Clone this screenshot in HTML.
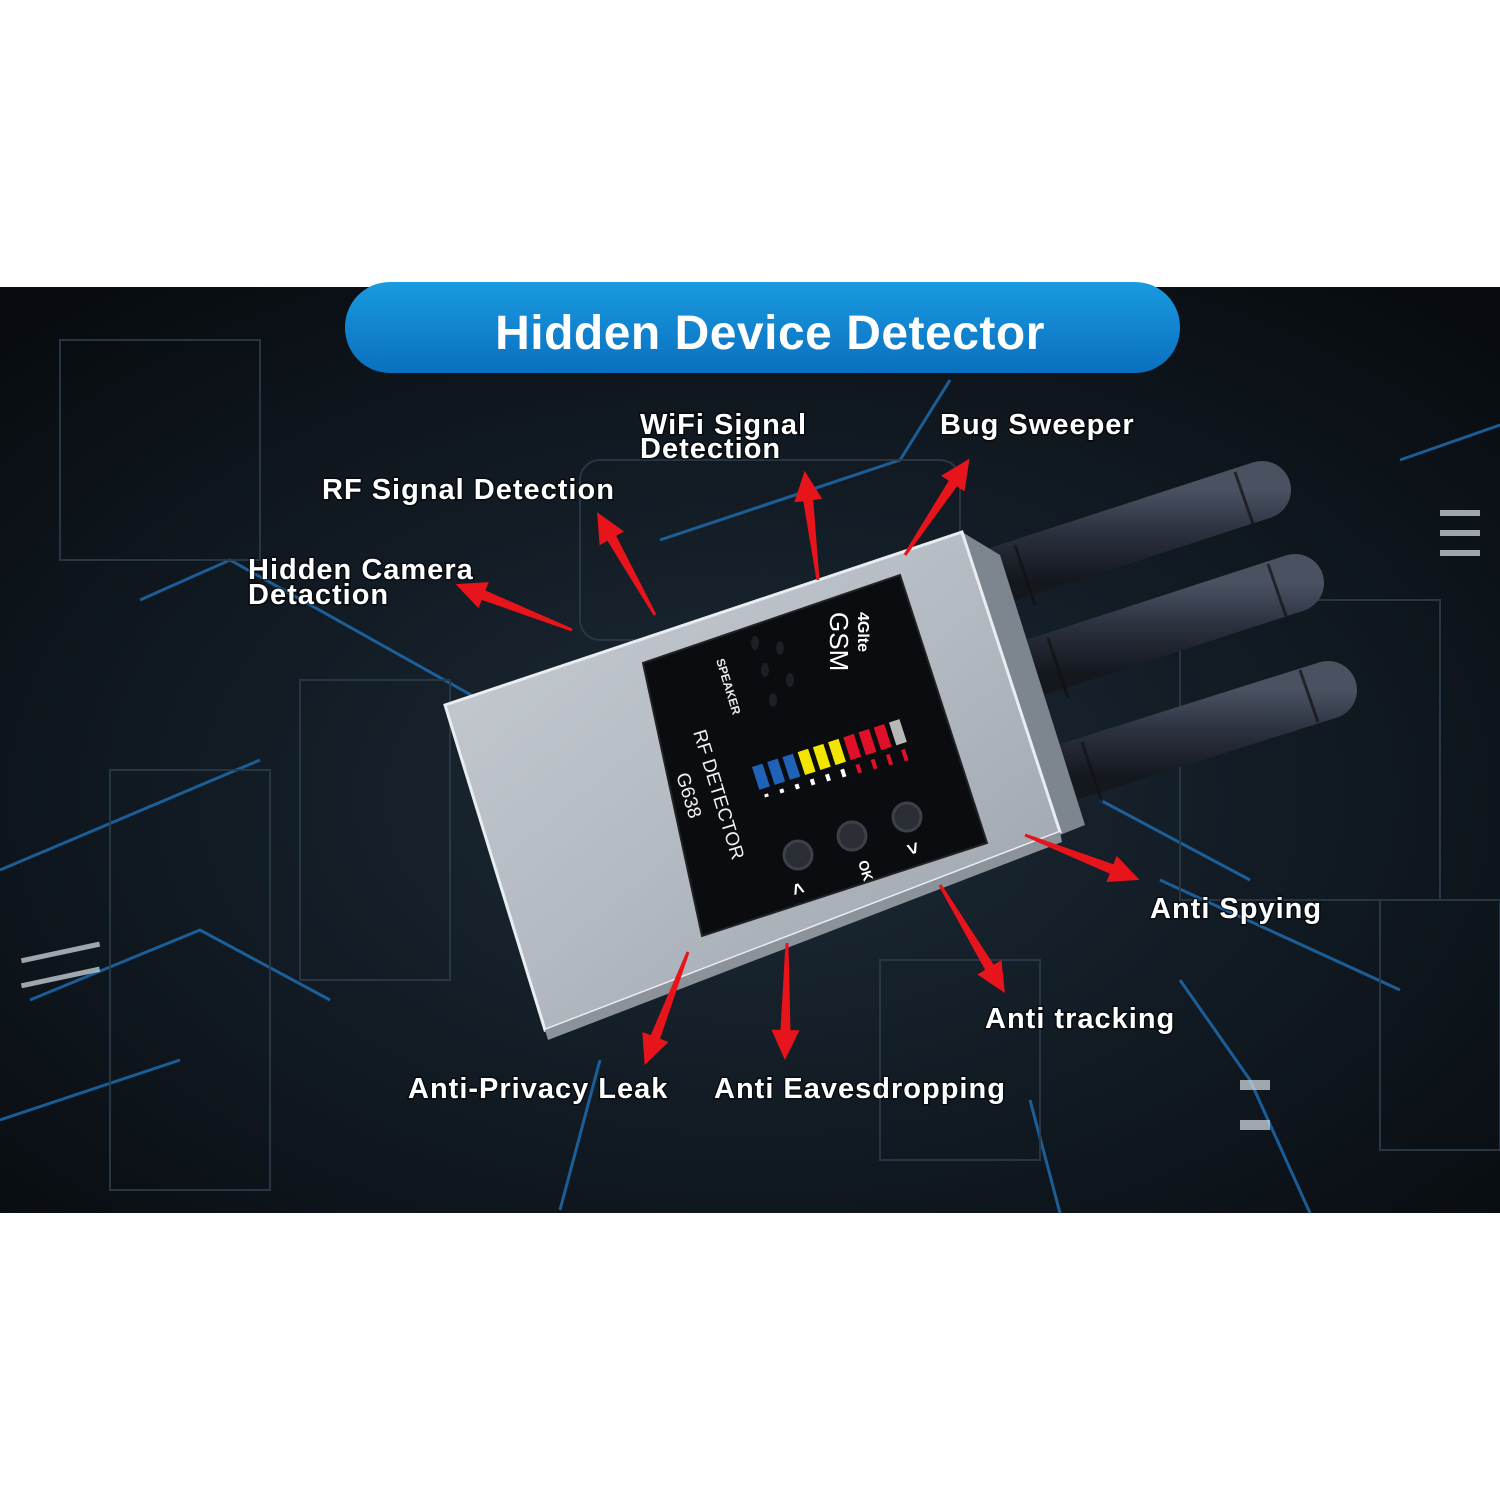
<!DOCTYPE html>
<html><head><meta charset="utf-8"><style>
html,body{margin:0;padding:0;background:#fff;}
svg{display:block;}
text{font-family:"Liberation Sans",Arial,sans-serif;}
.l{font-size:29px;letter-spacing:1px;font-weight:bold;fill:#fff;stroke:#000;stroke-width:3px;paint-order:stroke;stroke-opacity:.55}
</style></head><body>
<svg width="1500" height="1500" viewBox="0 0 1500 1500" xmlns="http://www.w3.org/2000/svg">
<defs>
<radialGradient id="bg" cx="0.5" cy="0.55" r="0.7">
<stop offset="0" stop-color="#1c2a36"/><stop offset="0.6" stop-color="#101820"/><stop offset="1" stop-color="#080c10"/>
</radialGradient>
<linearGradient id="ban" x1="0" y1="0" x2="0" y2="1">
<stop offset="0" stop-color="#1a9be0"/><stop offset="1" stop-color="#0a6fbf"/>
</linearGradient>
<linearGradient id="silver" x1="0" y1="0" x2="1" y2="1">
<stop offset="0" stop-color="#c8cdd3"/><stop offset="0.5" stop-color="#b4bac2"/><stop offset="1" stop-color="#9aa1aa"/>
</linearGradient>
<linearGradient id="ant" x1="0" y1="0" x2="0" y2="1">
<stop offset="0" stop-color="#4a5262"/><stop offset="0.45" stop-color="#2c3240"/><stop offset="1" stop-color="#14171e"/>
</linearGradient>
</defs>
<rect x="0" y="287" width="1500" height="926" fill="url(#bg)"/>
<g fill="none" stroke="#1f6fb5" stroke-width="3" opacity="0.8">
<polyline points="140,600 230,560 480,700"/>
<polyline points="0,870 260,760"/>
<polyline points="30,1000 200,930 330,1000"/>
<polyline points="0,1120 180,1060"/>
<polyline points="560,1210 600,1060"/>
<polyline points="1310,1213 1250,1080 1180,980"/>
<polyline points="1400,460 1500,425"/>
<polyline points="1160,880 1400,990"/>
<polyline points="660,540 900,460 950,380"/>
<polyline points="1060,1213 1030,1100"/>
<polyline points="1100,800 1250,880"/>
</g>
<g fill="none" stroke="#2b3a48" stroke-width="2" opacity="0.9">
<rect x="60" y="340" width="200" height="220"/>
<rect x="300" y="680" width="150" height="300"/>
<rect x="110" y="770" width="160" height="420"/>
<rect x="1180" y="600" width="260" height="300"/>
<rect x="1380" y="900" width="120" height="250"/>
<rect x="580" y="460" width="380" height="180" rx="20"/>
<rect x="880" y="960" width="160" height="200"/>
</g>
<g fill="#cfd8df" opacity="0.75">
<rect x="1440" y="510" width="40" height="6"/><rect x="1440" y="530" width="40" height="6"/><rect x="1440" y="550" width="40" height="6"/>
<rect x="20" y="950" width="80" height="5" transform="rotate(-12 60 950)"/>
<rect x="20" y="975" width="80" height="5" transform="rotate(-12 60 975)"/>
<rect x="1240" y="1080" width="30" height="10"/><rect x="1240" y="1120" width="30" height="10"/>
</g>
<rect x="345" y="282" width="835" height="91" rx="45" fill="url(#ban)"/>
<text x="770" y="349" text-anchor="middle" font-size="48" font-weight="bold" fill="#fff" letter-spacing="0.5">Hidden Device Detector</text>
<g stroke-linecap="round">
<line x1="985" y1="580" x2="1262" y2="490" stroke="url(#ant)" stroke-width="58"/>
<line x1="1018" y1="673" x2="1295" y2="583" stroke="url(#ant)" stroke-width="58"/>
<line x1="1052" y1="777" x2="1328" y2="690" stroke="url(#ant)" stroke-width="58"/>
</g>
<g stroke="#111" stroke-width="3" opacity="0.7">
<line x1="1015" y1="545" x2="1035" y2="605"/><line x1="1048" y1="638" x2="1068" y2="698"/><line x1="1082" y1="742" x2="1102" y2="802"/>
<line x1="1235" y1="472" x2="1253" y2="524"/><line x1="1268" y1="564" x2="1286" y2="616"/><line x1="1300" y1="670" x2="1318" y2="722"/>
</g>
<polygon points="962,532 1000,555 1085,825 1060,835" fill="#7d858f"/>
<polygon points="445,705 962,532 1060,832 545,1030" fill="url(#silver)" stroke="#e9edf1" stroke-width="3"/>
<polygon points="545,1030 1060,832 1062,842 548,1040" fill="#8b929a"/>
<polygon points="643,663 900,575 987,843 702,936" fill="#0b0c0f" stroke="#222" stroke-width="2"/>
<g fill="#1d1f24">
<ellipse cx="755" cy="643" rx="4" ry="7"/><ellipse cx="780" cy="648" rx="4" ry="7"/><ellipse cx="765" cy="670" rx="4" ry="7"/><ellipse cx="790" cy="680" rx="4" ry="7"/><ellipse cx="773" cy="700" rx="4" ry="7"/>
</g>
<text transform="translate(716,660) rotate(73)" font-size="12" font-weight="bold" fill="#e8e8e8">SPEAKER</text>
<text transform="translate(693,732) rotate(73)" font-size="19" fill="#f0f0f0">RF DETECTOR</text>
<text transform="translate(676,775) rotate(73)" font-size="19" fill="#f0f0f0">G638</text>
<text transform="translate(858,612) rotate(90)" font-size="16" font-weight="bold" fill="#fff">4Glte</text>
<text transform="translate(830,612) rotate(90)" font-size="26" fill="#fff" font-family="DejaVu Sans">GSM</text>
<g transform="translate(752,767) rotate(-18)">
<rect x="0" y="0" width="11" height="24" fill="#1f63b8"/>
<rect x="16" y="0" width="11" height="24" fill="#1f63b8"/>
<rect x="32" y="0" width="11" height="24" fill="#1f63b8"/>
<rect x="48" y="0" width="11" height="24" fill="#f2e600"/>
<rect x="64" y="0" width="11" height="24" fill="#f2e600"/>
<rect x="80" y="0" width="11" height="24" fill="#f2e600"/>
<rect x="96" y="0" width="11" height="24" fill="#e0102a"/>
<rect x="112" y="0" width="11" height="24" fill="#e0102a"/>
<rect x="128" y="0" width="11" height="24" fill="#e0102a"/>
<rect x="144" y="0" width="11" height="24" fill="#b8b8b8"/>
<rect x="3" y="30" width="4" height="3" fill="#fff"/>
<rect x="19" y="30" width="4" height="4" fill="#fff"/>
<rect x="35" y="30" width="4" height="5" fill="#fff"/>
<rect x="51" y="30" width="4" height="6" fill="#fff"/>
<rect x="67" y="30" width="4" height="7" fill="#fff"/>
<rect x="83" y="30" width="4" height="8" fill="#fff"/>
<rect x="99" y="30" width="4" height="9" fill="#e0102a"/>
<rect x="115" y="30" width="4" height="10" fill="#e0102a"/>
<rect x="131" y="30" width="4" height="11" fill="#e0102a"/>
<rect x="147" y="30" width="4" height="12" fill="#e0102a"/>
</g>
<g fill="#2a2d33" stroke="#3c4048" stroke-width="3">
<circle cx="798" cy="855" r="14"/><circle cx="852" cy="836" r="14"/><circle cx="907" cy="817" r="14"/>
</g>
<text transform="translate(858,862) rotate(73)" font-size="14" font-weight="bold" fill="#fff">OK</text>
<text transform="translate(790,885) rotate(73)" font-size="20" font-weight="bold" fill="#fff">&lt;</text>
<text transform="translate(905,845) rotate(73)" font-size="20" font-weight="bold" fill="#fff">&gt;</text>
<g fill="#e8141c">
<polygon points="0,-1.5 -95,-5 -95,-14 -125,0 -95,14 -95,5 0,1.5" transform="translate(572,630) rotate(21.5)"/>
<polygon points="0,-1.5 -88,-5 -88,-14 -118,0 -88,14 -88,5 0,1.5" transform="translate(655,615) rotate(60.6)"/>
<polygon points="0,-1.5 -80,-5 -80,-14 -110,0 -80,14 -80,5 0,1.5" transform="translate(818,580) rotate(83)"/>
<polygon points="0,-1.5 -86,-5 -86,-14 -116,0 -86,14 -86,5 0,1.5" transform="translate(905,555) rotate(123.8)"/>
<polygon points="0,-1.5 -93,-5 -93,-14 -123,0 -93,14 -93,5 0,1.5" transform="translate(1025,835) rotate(201.4)"/>
<polygon points="0,-1.5 -96,-5 -96,-14 -126,0 -96,14 -96,5 0,1.5" transform="translate(940,885) rotate(239)"/>
<polygon points="0,-1.5 -87,-5 -87,-14 -117,0 -87,14 -87,5 0,1.5" transform="translate(787,943) rotate(271)"/>
<polygon points="0,-1.5 -91,-5 -91,-14 -121,0 -91,14 -91,5 0,1.5" transform="translate(688,952) rotate(291)"/>
</g>
<text class="l" x="640" y="434">WiFi Signal</text>
<text class="l" x="640" y="458">Detection</text>
<text class="l" x="940" y="434">Bug Sweeper</text>
<text class="l" x="322" y="499">RF Signal Detection</text>
<text class="l" x="248" y="579">Hidden Camera</text>
<text class="l" x="248" y="604">Detaction</text>
<text class="l" x="1150" y="918">Anti Spying</text>
<text class="l" x="985" y="1028">Anti tracking</text>
<text class="l" x="408" y="1098">Anti-Privacy Leak</text>
<text class="l" x="714" y="1098">Anti Eavesdropping</text>
</svg>
</body></html>
